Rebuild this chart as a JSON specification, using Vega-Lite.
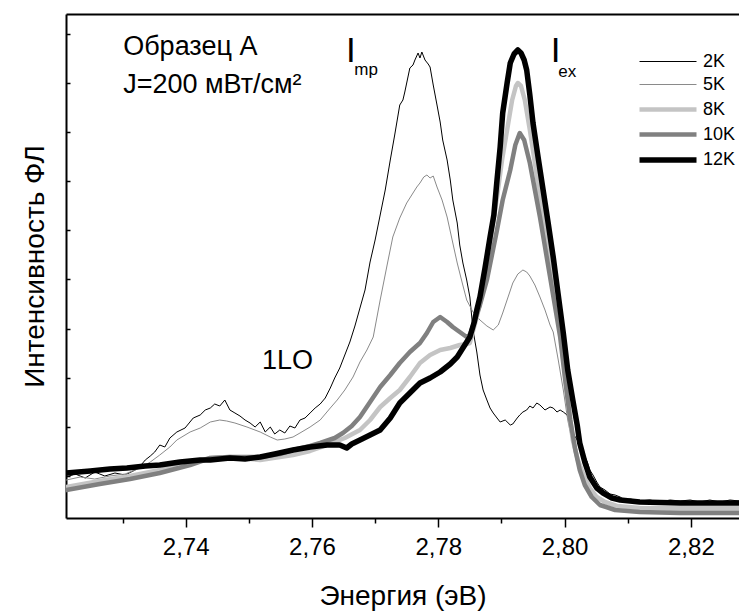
{
  "$schema": "https://vega.github.io/schema/vega-lite/v6.json",
  "width": 673,
  "height": 504,
  "autosize": "none",
  "padding": {"left": 66, "top": 14, "right": 0, "bottom": 96},
  "background": "white",
  "config": {
    "font": "Liberation Sans",
    "view": {"stroke": null},
    "axis": {"grid": false, "domainColor": "black", "domainWidth": 2, "tickColor": "black", "labelColor": "black", "titleColor": "black", "titleFontWeight": "normal"}
  },
  "datasets": {
    "curves": [
      {"s":"2K","e":2.7211,"i":41},{"s":"2K","e":2.7225,"i":44},{"s":"2K","e":2.7241,"i":40},{"s":"2K","e":2.7256,"i":46},{"s":"2K","e":2.7272,"i":42},{"s":"2K","e":2.7288,"i":45},{"s":"2K","e":2.7304,"i":43},{"s":"2K","e":2.732,"i":48},{"s":"2K","e":2.7328,"i":52},{"s":"2K","e":2.7336,"i":58},{"s":"2K","e":2.7344,"i":62},{"s":"2K","e":2.7351,"i":66},{"s":"2K","e":2.7359,"i":73},{"s":"2K","e":2.7367,"i":71},{"s":"2K","e":2.7375,"i":80},{"s":"2K","e":2.7386,"i":86},{"s":"2K","e":2.7399,"i":90},{"s":"2K","e":2.7412,"i":100},{"s":"2K","e":2.7423,"i":103},{"s":"2K","e":2.7431,"i":108},{"s":"2K","e":2.7439,"i":110},{"s":"2K","e":2.7446,"i":114},{"s":"2K","e":2.7454,"i":112},{"s":"2K","e":2.7462,"i":118},{"s":"2K","e":2.747,"i":108},{"s":"2K","e":2.7478,"i":105},{"s":"2K","e":2.7486,"i":102},{"s":"2K","e":2.7494,"i":98},{"s":"2K","e":2.7502,"i":95},{"s":"2K","e":2.751,"i":91},{"s":"2K","e":2.7518,"i":96},{"s":"2K","e":2.7526,"i":86},{"s":"2K","e":2.7534,"i":91},{"s":"2K","e":2.7541,"i":84},{"s":"2K","e":2.7549,"i":88},{"s":"2K","e":2.7557,"i":85},{"s":"2K","e":2.7565,"i":92},{"s":"2K","e":2.7573,"i":90},{"s":"2K","e":2.7581,"i":98},{"s":"2K","e":2.7589,"i":100},{"s":"2K","e":2.7597,"i":105},{"s":"2K","e":2.7605,"i":110},{"s":"2K","e":2.7613,"i":114},{"s":"2K","e":2.7621,"i":120},{"s":"2K","e":2.7629,"i":130},{"s":"2K","e":2.7636,"i":140},{"s":"2K","e":2.7644,"i":150},{"s":"2K","e":2.7652,"i":163},{"s":"2K","e":2.766,"i":176},{"s":"2K","e":2.7668,"i":192},{"s":"2K","e":2.7676,"i":210},{"s":"2K","e":2.7684,"i":228},{"s":"2K","e":2.7692,"i":256},{"s":"2K","e":2.77,"i":278},{"s":"2K","e":2.7708,"i":303},{"s":"2K","e":2.7716,"i":328},{"s":"2K","e":2.7724,"i":358},{"s":"2K","e":2.7731,"i":383},{"s":"2K","e":2.7739,"i":413},{"s":"2K","e":2.7744,"i":418},{"s":"2K","e":2.7747,"i":426},{"s":"2K","e":2.7755,"i":450},{"s":"2K","e":2.776,"i":453},{"s":"2K","e":2.7763,"i":458},{"s":"2K","e":2.7768,"i":465},{"s":"2K","e":2.7771,"i":460},{"s":"2K","e":2.7774,"i":466},{"s":"2K","e":2.7779,"i":458},{"s":"2K","e":2.7784,"i":454},{"s":"2K","e":2.7787,"i":451},{"s":"2K","e":2.7792,"i":433},{"s":"2K","e":2.7798,"i":413},{"s":"2K","e":2.7803,"i":396},{"s":"2K","e":2.7807,"i":378},{"s":"2K","e":2.7814,"i":358},{"s":"2K","e":2.7819,"i":338},{"s":"2K","e":2.7823,"i":318},{"s":"2K","e":2.783,"i":295},{"s":"2K","e":2.7834,"i":273},{"s":"2K","e":2.7839,"i":255},{"s":"2K","e":2.7845,"i":238},{"s":"2K","e":2.785,"i":221},{"s":"2K","e":2.7855,"i":188},{"s":"2K","e":2.7861,"i":166},{"s":"2K","e":2.7866,"i":143},{"s":"2K","e":2.7871,"i":128},{"s":"2K","e":2.7877,"i":118},{"s":"2K","e":2.7882,"i":110},{"s":"2K","e":2.7887,"i":105},{"s":"2K","e":2.7893,"i":100},{"s":"2K","e":2.7898,"i":96},{"s":"2K","e":2.7906,"i":98},{"s":"2K","e":2.7914,"i":93},{"s":"2K","e":2.7918,"i":94},{"s":"2K","e":2.7925,"i":100},{"s":"2K","e":2.7929,"i":103},{"s":"2K","e":2.7934,"i":106},{"s":"2K","e":2.794,"i":108},{"s":"2K","e":2.7945,"i":112},{"s":"2K","e":2.795,"i":110},{"s":"2K","e":2.7956,"i":115},{"s":"2K","e":2.7961,"i":113},{"s":"2K","e":2.7969,"i":108},{"s":"2K","e":2.7977,"i":111},{"s":"2K","e":2.7982,"i":110},{"s":"2K","e":2.7988,"i":106},{"s":"2K","e":2.7993,"i":108},{"s":"2K","e":2.7998,"i":106},{"s":"2K","e":2.8004,"i":103},{"s":"2K","e":2.8009,"i":93},{"s":"2K","e":2.8013,"i":85},{"s":"2K","e":2.802,"i":78},{"s":"2K","e":2.8024,"i":71},{"s":"2K","e":2.8029,"i":66},{"s":"2K","e":2.8036,"i":56},{"s":"2K","e":2.804,"i":48},{"s":"2K","e":2.8045,"i":43},{"s":"2K","e":2.8051,"i":36},{"s":"2K","e":2.8056,"i":31},{"s":"2K","e":2.8064,"i":28},{"s":"2K","e":2.8072,"i":24},{"s":"2K","e":2.808,"i":23},{"s":"2K","e":2.8088,"i":21},{"s":"2K","e":2.8096,"i":18},{"s":"2K","e":2.8104,"i":19},{"s":"2K","e":2.8119,"i":17},{"s":"2K","e":2.8135,"i":18},{"s":"2K","e":2.8151,"i":16},{"s":"2K","e":2.8167,"i":18},{"s":"2K","e":2.8183,"i":17},{"s":"2K","e":2.8199,"i":18},{"s":"2K","e":2.8214,"i":16},{"s":"2K","e":2.823,"i":18},{"s":"2K","e":2.8246,"i":16},{"s":"2K","e":2.8262,"i":18},{"s":"2K","e":2.8276,"i":17},
      {"s":"5K","e":2.7211,"i":38},{"s":"5K","e":2.7233,"i":41},{"s":"5K","e":2.7256,"i":39},{"s":"5K","e":2.728,"i":42},{"s":"5K","e":2.7304,"i":44},{"s":"5K","e":2.7328,"i":50},{"s":"5K","e":2.7344,"i":56},{"s":"5K","e":2.7359,"i":63},{"s":"5K","e":2.7375,"i":71},{"s":"5K","e":2.7386,"i":78},{"s":"5K","e":2.7407,"i":86},{"s":"5K","e":2.7423,"i":90},{"s":"5K","e":2.7439,"i":96},{"s":"5K","e":2.7454,"i":98},{"s":"5K","e":2.7465,"i":97},{"s":"5K","e":2.7478,"i":95},{"s":"5K","e":2.7497,"i":91},{"s":"5K","e":2.7518,"i":86},{"s":"5K","e":2.7534,"i":81},{"s":"5K","e":2.7545,"i":78},{"s":"5K","e":2.7557,"i":79},{"s":"5K","e":2.757,"i":81},{"s":"5K","e":2.7581,"i":85},{"s":"5K","e":2.7597,"i":91},{"s":"5K","e":2.7613,"i":98},{"s":"5K","e":2.7629,"i":110},{"s":"5K","e":2.764,"i":118},{"s":"5K","e":2.7652,"i":128},{"s":"5K","e":2.7665,"i":141},{"s":"5K","e":2.7676,"i":156},{"s":"5K","e":2.7687,"i":168},{"s":"5K","e":2.7697,"i":181},{"s":"5K","e":2.7708,"i":218},{"s":"5K","e":2.7719,"i":253},{"s":"5K","e":2.7728,"i":281},{"s":"5K","e":2.7739,"i":300},{"s":"5K","e":2.775,"i":315},{"s":"5K","e":2.776,"i":325},{"s":"5K","e":2.7766,"i":331},{"s":"5K","e":2.7771,"i":335},{"s":"5K","e":2.7777,"i":341},{"s":"5K","e":2.7782,"i":343},{"s":"5K","e":2.7787,"i":340},{"s":"5K","e":2.7792,"i":342},{"s":"5K","e":2.7798,"i":331},{"s":"5K","e":2.7806,"i":318},{"s":"5K","e":2.7814,"i":301},{"s":"5K","e":2.7822,"i":278},{"s":"5K","e":2.783,"i":255},{"s":"5K","e":2.7838,"i":235},{"s":"5K","e":2.7845,"i":218},{"s":"5K","e":2.7855,"i":206},{"s":"5K","e":2.7866,"i":198},{"s":"5K","e":2.7877,"i":192},{"s":"5K","e":2.7887,"i":188},{"s":"5K","e":2.7895,"i":193},{"s":"5K","e":2.7902,"i":205},{"s":"5K","e":2.791,"i":220},{"s":"5K","e":2.7918,"i":235},{"s":"5K","e":2.7926,"i":244},{"s":"5K","e":2.7934,"i":248},{"s":"5K","e":2.794,"i":246},{"s":"5K","e":2.7945,"i":242},{"s":"5K","e":2.7953,"i":233},{"s":"5K","e":2.7961,"i":221},{"s":"5K","e":2.7969,"i":208},{"s":"5K","e":2.7977,"i":193},{"s":"5K","e":2.7982,"i":186},{"s":"5K","e":2.799,"i":158},{"s":"5K","e":2.7998,"i":128},{"s":"5K","e":2.8005,"i":98},{"s":"5K","e":2.8013,"i":73},{"s":"5K","e":2.8021,"i":53},{"s":"5K","e":2.8029,"i":38},{"s":"5K","e":2.804,"i":26},{"s":"5K","e":2.8056,"i":18},{"s":"5K","e":2.8072,"i":14},{"s":"5K","e":2.8088,"i":12},{"s":"5K","e":2.8119,"i":11},{"s":"5K","e":2.8183,"i":11},{"s":"5K","e":2.8276,"i":11},
      {"s":"8K","e":2.7211,"i":31},{"s":"8K","e":2.7264,"i":37},{"s":"8K","e":2.7312,"i":42},{"s":"8K","e":2.7359,"i":48},{"s":"8K","e":2.7407,"i":55},{"s":"8K","e":2.7439,"i":60},{"s":"8K","e":2.747,"i":61},{"s":"8K","e":2.7518,"i":58},{"s":"8K","e":2.7549,"i":61},{"s":"8K","e":2.757,"i":63},{"s":"8K","e":2.7597,"i":67},{"s":"8K","e":2.7624,"i":73},{"s":"8K","e":2.7652,"i":80},{"s":"8K","e":2.7676,"i":88},{"s":"8K","e":2.7692,"i":98},{"s":"8K","e":2.7708,"i":111},{"s":"8K","e":2.7724,"i":120},{"s":"8K","e":2.7739,"i":128},{"s":"8K","e":2.7755,"i":141},{"s":"8K","e":2.7771,"i":155},{"s":"8K","e":2.7787,"i":163},{"s":"8K","e":2.7803,"i":168},{"s":"8K","e":2.7819,"i":170},{"s":"8K","e":2.7834,"i":173},{"s":"8K","e":2.7845,"i":174},{"s":"8K","e":2.785,"i":175},{"s":"8K","e":2.7861,"i":201},{"s":"8K","e":2.7869,"i":223},{"s":"8K","e":2.7877,"i":255},{"s":"8K","e":2.7885,"i":288},{"s":"8K","e":2.7893,"i":321},{"s":"8K","e":2.7901,"i":358},{"s":"8K","e":2.7909,"i":388},{"s":"8K","e":2.7917,"i":418},{"s":"8K","e":2.7923,"i":432},{"s":"8K","e":2.7926,"i":435},{"s":"8K","e":2.7931,"i":432},{"s":"8K","e":2.7937,"i":418},{"s":"8K","e":2.7945,"i":388},{"s":"8K","e":2.7953,"i":355},{"s":"8K","e":2.7961,"i":321},{"s":"8K","e":2.7969,"i":288},{"s":"8K","e":2.7977,"i":255},{"s":"8K","e":2.7985,"i":221},{"s":"8K","e":2.7993,"i":188},{"s":"8K","e":2.7998,"i":158},{"s":"8K","e":2.8005,"i":118},{"s":"8K","e":2.8013,"i":78},{"s":"8K","e":2.8021,"i":58},{"s":"8K","e":2.8029,"i":45},{"s":"8K","e":2.804,"i":30},{"s":"8K","e":2.8051,"i":21},{"s":"8K","e":2.8064,"i":16},{"s":"8K","e":2.8083,"i":12},{"s":"8K","e":2.8119,"i":10},{"s":"8K","e":2.8183,"i":9},{"s":"8K","e":2.8276,"i":8},
      {"s":"10K","e":2.7211,"i":28},{"s":"10K","e":2.7264,"i":34},{"s":"10K","e":2.7312,"i":39},{"s":"10K","e":2.7359,"i":45},{"s":"10K","e":2.7407,"i":53},{"s":"10K","e":2.7439,"i":60},{"s":"10K","e":2.747,"i":61},{"s":"10K","e":2.7518,"i":61},{"s":"10K","e":2.7549,"i":64},{"s":"10K","e":2.757,"i":68},{"s":"10K","e":2.7597,"i":72},{"s":"10K","e":2.7613,"i":75},{"s":"10K","e":2.7636,"i":80},{"s":"10K","e":2.7649,"i":85},{"s":"10K","e":2.7663,"i":92},{"s":"10K","e":2.7676,"i":101},{"s":"10K","e":2.7692,"i":116},{"s":"10K","e":2.7708,"i":131},{"s":"10K","e":2.7724,"i":143},{"s":"10K","e":2.7739,"i":155},{"s":"10K","e":2.7755,"i":166},{"s":"10K","e":2.7771,"i":175},{"s":"10K","e":2.7782,"i":185},{"s":"10K","e":2.7792,"i":196},{"s":"10K","e":2.7803,"i":201},{"s":"10K","e":2.7814,"i":196},{"s":"10K","e":2.7823,"i":191},{"s":"10K","e":2.7834,"i":186},{"s":"10K","e":2.7845,"i":181},{"s":"10K","e":2.785,"i":183},{"s":"10K","e":2.7858,"i":198},{"s":"10K","e":2.7866,"i":213},{"s":"10K","e":2.7877,"i":238},{"s":"10K","e":2.7885,"i":263},{"s":"10K","e":2.7893,"i":288},{"s":"10K","e":2.7902,"i":318},{"s":"10K","e":2.7914,"i":348},{"s":"10K","e":2.7922,"i":373},{"s":"10K","e":2.7929,"i":385},{"s":"10K","e":2.7936,"i":378},{"s":"10K","e":2.7945,"i":355},{"s":"10K","e":2.7953,"i":328},{"s":"10K","e":2.7961,"i":301},{"s":"10K","e":2.7969,"i":271},{"s":"10K","e":2.7977,"i":241},{"s":"10K","e":2.7985,"i":211},{"s":"10K","e":2.7993,"i":181},{"s":"10K","e":2.8001,"i":138},{"s":"10K","e":2.8009,"i":98},{"s":"10K","e":2.8017,"i":68},{"s":"10K","e":2.8024,"i":48},{"s":"10K","e":2.8032,"i":33},{"s":"10K","e":2.8043,"i":21},{"s":"10K","e":2.8056,"i":13},{"s":"10K","e":2.808,"i":8},{"s":"10K","e":2.8119,"i":6},{"s":"10K","e":2.8183,"i":5},{"s":"10K","e":2.8276,"i":5},
      {"s":"12K","e":2.7211,"i":45},{"s":"12K","e":2.7249,"i":47},{"s":"12K","e":2.728,"i":49},{"s":"12K","e":2.7307,"i":50},{"s":"12K","e":2.7336,"i":52},{"s":"12K","e":2.7359,"i":53},{"s":"12K","e":2.7391,"i":56},{"s":"12K","e":2.7423,"i":58},{"s":"12K","e":2.7439,"i":58},{"s":"12K","e":2.747,"i":60},{"s":"12K","e":2.7494,"i":59},{"s":"12K","e":2.7518,"i":61},{"s":"12K","e":2.7541,"i":64},{"s":"12K","e":2.757,"i":68},{"s":"12K","e":2.7597,"i":71},{"s":"12K","e":2.7624,"i":73},{"s":"12K","e":2.7644,"i":73},{"s":"12K","e":2.7655,"i":70},{"s":"12K","e":2.7663,"i":74},{"s":"12K","e":2.7676,"i":78},{"s":"12K","e":2.7692,"i":83},{"s":"12K","e":2.7708,"i":88},{"s":"12K","e":2.7724,"i":100},{"s":"12K","e":2.7739,"i":115},{"s":"12K","e":2.7755,"i":125},{"s":"12K","e":2.7771,"i":135},{"s":"12K","e":2.7787,"i":140},{"s":"12K","e":2.7803,"i":146},{"s":"12K","e":2.7819,"i":154},{"s":"12K","e":2.783,"i":161},{"s":"12K","e":2.7839,"i":170},{"s":"12K","e":2.785,"i":181},{"s":"12K","e":2.7857,"i":196},{"s":"12K","e":2.7861,"i":208},{"s":"12K","e":2.7866,"i":221},{"s":"12K","e":2.7874,"i":250},{"s":"12K","e":2.7882,"i":281},{"s":"12K","e":2.7888,"i":303},{"s":"12K","e":2.7893,"i":338},{"s":"12K","e":2.7898,"i":371},{"s":"12K","e":2.7902,"i":405},{"s":"12K","e":2.7909,"i":435},{"s":"12K","e":2.7914,"i":455},{"s":"12K","e":2.792,"i":464},{"s":"12K","e":2.7926,"i":468},{"s":"12K","e":2.7931,"i":465},{"s":"12K","e":2.7936,"i":458},{"s":"12K","e":2.794,"i":448},{"s":"12K","e":2.7945,"i":423},{"s":"12K","e":2.795,"i":395},{"s":"12K","e":2.7958,"i":361},{"s":"12K","e":2.7966,"i":328},{"s":"12K","e":2.7974,"i":295},{"s":"12K","e":2.7982,"i":261},{"s":"12K","e":2.799,"i":223},{"s":"12K","e":2.7998,"i":185},{"s":"12K","e":2.8005,"i":148},{"s":"12K","e":2.8013,"i":118},{"s":"12K","e":2.802,"i":93},{"s":"12K","e":2.8024,"i":75},{"s":"12K","e":2.8032,"i":56},{"s":"12K","e":2.804,"i":41},{"s":"12K","e":2.8051,"i":30},{"s":"12K","e":2.8061,"i":25},{"s":"12K","e":2.8075,"i":20},{"s":"12K","e":2.8088,"i":18},{"s":"12K","e":2.8119,"i":16},{"s":"12K","e":2.8183,"i":15},{"s":"12K","e":2.8276,"i":15}
    ],
    "bigText": [
      {"e": 2.7301, "i": 463, "t": "Образец А"},
      {"e": 2.7301, "i": 425, "t": "J=200 мВт/см²"},
      {"e": 2.7521, "i": 149, "t": "1LO"}
    ],
    "peakI": [
      {"e": 2.7654, "i": 456, "t": "I"},
      {"e": 2.7978, "i": 456, "t": "I"}
    ],
    "subs": [
      {"e": 2.7667, "i": 443, "t": "mp"},
      {"e": 2.7990, "i": 441, "t": "ex"}
    ]
  },
  "layer": [
    {
      "data": {"name": "curves"},
      "mark": {"type": "line", "clip": true, "strokeJoin": "round", "strokeCap": "round"},
      "encoding": {
        "x": {"field": "e", "type": "quantitative", "scale": {"domain": [2.72105, 2.82762], "nice": false, "zero": false},
          "axis": {"orient": "bottom", "values": [2.73, 2.74, 2.75, 2.76, 2.77, 2.78, 2.79, 2.80, 2.81, 2.82],
            "labelExpr": "round(datum.value*100)%2==0 ? replace(format(datum.value,'.2f'),'.',',') : ''",
            "tickSize": {"condition": {"test": "round(datum.value*100)%2==0", "value": 9}, "value": 5},
            "tickWidth": 1.5, "labelFontSize": 24, "labelPadding": 8, "title": "Энергия (эВ)", "titleFontSize": 28, "titlePadding": 23, "labelFlush": false, "labelOverlap": false}},
        "y": {"field": "i", "type": "quantitative", "scale": {"domain": [0, 504], "nice": false, "zero": false},
          "axis": {"values": [42, 91.1, 140.3, 189.4, 238.6, 287.7, 336.8, 386, 435.1, 484.3], "labels": false, "tickSize": -4, "tickWidth": 1.5,
            "title": "Интенсивность ФЛ", "titleFontSize": 28, "titlePadding": 16}},
        "color": {"field": "s", "type": "nominal", "sort": null,
          "scale": {"domain": ["2K", "5K", "8K", "10K", "12K"], "range": ["#000000", "#8a8a8a", "#c4c4c4", "#808080", "#000000"]},
          "legend": {"orient": "none", "legendX": 589, "legendY": 37, "title": null, "symbolType": "M-2.85,0H2.85", "symbolSize": 400, "labelFontSize": 18, "labelOffset": 22, "rowPadding": 3, "labelColor": "black"}},
        "strokeWidth": {"field": "s", "type": "nominal", "sort": null,
          "scale": {"type": "ordinal", "domain": ["2K", "5K", "8K", "10K", "12K"], "range": [1, 1, 4.5, 4.5, 5.5]},
          "legend": {"orient": "none", "legendX": 589, "legendY": 37, "title": null, "symbolType": "M-2.85,0H2.85", "symbolSize": 400, "labelFontSize": 18, "labelOffset": 22, "rowPadding": 3, "labelColor": "black"}}
      }
    },
    {
      "data": {"name": "bigText"},
      "mark": {"type": "text", "align": "left", "baseline": "alphabetic", "fontSize": 27, "color": "black"},
      "encoding": {
        "x": {"field": "e", "type": "quantitative", "axis": {"orient": "top", "labels": false, "ticks": false, "title": null, "domain": true}},
        "y": {"field": "i", "type": "quantitative"},
        "text": {"field": "t"}
      }
    },
    {
      "data": {"name": "peakI"},
      "mark": {"type": "text", "align": "left", "baseline": "alphabetic", "fontSize": 35, "color": "black"},
      "encoding": {
        "x": {"field": "e", "type": "quantitative", "axis": null},
        "y": {"field": "i", "type": "quantitative"},
        "text": {"field": "t"}
      }
    },
    {
      "data": {"name": "subs"},
      "mark": {"type": "text", "align": "left", "baseline": "alphabetic", "fontSize": 17, "color": "black"},
      "encoding": {
        "x": {"field": "e", "type": "quantitative", "axis": null},
        "y": {"field": "i", "type": "quantitative"},
        "text": {"field": "t"}
      }
    }
  ],
  "resolve": {"axis": {"x": "independent"}}
}
